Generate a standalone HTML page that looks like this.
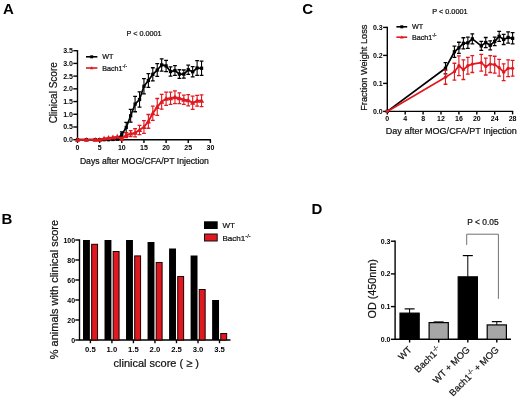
<!DOCTYPE html>
<html><head><meta charset="utf-8"><style>
html,body{margin:0;padding:0;background:#fff;}
svg{display:block;font-family:"Liberation Sans", sans-serif;will-change:transform;}
</style></head><body>
<svg width="520" height="403" viewBox="0 0 520 403">
<rect width="520" height="403" fill="#fff"/>
<text x="3.00" y="13.70" font-size="15" text-anchor="start" font-weight="bold" fill="#000" >A</text>
<text x="1.60" y="223.60" font-size="15" text-anchor="start" font-weight="bold" fill="#000" >B</text>
<text x="302.20" y="13.70" font-size="15" text-anchor="start" font-weight="bold" fill="#000" >C</text>
<text x="311.40" y="214.20" font-size="15" text-anchor="start" font-weight="bold" fill="#000" >D</text>
<line x1="77.50" y1="50.09" x2="77.50" y2="140.30" stroke="#000" stroke-width="1.4"/>
<line x1="73.30" y1="139.70" x2="77.50" y2="139.70" stroke="#000" stroke-width="1.4"/>
<text x="72.90" y="142.20" font-size="7" text-anchor="end" font-weight="bold" fill="#000" >0.0</text>
<line x1="73.30" y1="126.98" x2="77.50" y2="126.98" stroke="#000" stroke-width="1.4"/>
<text x="72.90" y="129.48" font-size="7" text-anchor="end" font-weight="bold" fill="#000" >0.5</text>
<line x1="73.30" y1="114.27" x2="77.50" y2="114.27" stroke="#000" stroke-width="1.4"/>
<text x="72.90" y="116.77" font-size="7" text-anchor="end" font-weight="bold" fill="#000" >1.0</text>
<line x1="73.30" y1="101.55" x2="77.50" y2="101.55" stroke="#000" stroke-width="1.4"/>
<text x="72.90" y="104.05" font-size="7" text-anchor="end" font-weight="bold" fill="#000" >1.5</text>
<line x1="73.30" y1="88.84" x2="77.50" y2="88.84" stroke="#000" stroke-width="1.4"/>
<text x="72.90" y="91.34" font-size="7" text-anchor="end" font-weight="bold" fill="#000" >2.0</text>
<line x1="73.30" y1="76.12" x2="77.50" y2="76.12" stroke="#000" stroke-width="1.4"/>
<text x="72.90" y="78.62" font-size="7" text-anchor="end" font-weight="bold" fill="#000" >2.5</text>
<line x1="73.30" y1="63.41" x2="77.50" y2="63.41" stroke="#000" stroke-width="1.4"/>
<text x="72.90" y="65.91" font-size="7" text-anchor="end" font-weight="bold" fill="#000" >3.0</text>
<line x1="73.30" y1="50.69" x2="77.50" y2="50.69" stroke="#000" stroke-width="1.4"/>
<text x="72.90" y="53.19" font-size="7" text-anchor="end" font-weight="bold" fill="#000" >3.5</text>
<line x1="77.50" y1="139.70" x2="211.00" y2="139.70" stroke="#000" stroke-width="1.4"/>
<line x1="77.50" y1="139.70" x2="77.50" y2="142.90" stroke="#000" stroke-width="1.4"/>
<text x="77.50" y="150.30" font-size="7" text-anchor="middle" font-weight="bold" fill="#000" >0</text>
<line x1="99.65" y1="139.70" x2="99.65" y2="142.90" stroke="#000" stroke-width="1.4"/>
<text x="99.65" y="150.30" font-size="7" text-anchor="middle" font-weight="bold" fill="#000" >5</text>
<line x1="121.80" y1="139.70" x2="121.80" y2="142.90" stroke="#000" stroke-width="1.4"/>
<text x="121.80" y="150.30" font-size="7" text-anchor="middle" font-weight="bold" fill="#000" >10</text>
<line x1="143.95" y1="139.70" x2="143.95" y2="142.90" stroke="#000" stroke-width="1.4"/>
<text x="143.95" y="150.30" font-size="7" text-anchor="middle" font-weight="bold" fill="#000" >15</text>
<line x1="166.10" y1="139.70" x2="166.10" y2="142.90" stroke="#000" stroke-width="1.4"/>
<text x="166.10" y="150.30" font-size="7" text-anchor="middle" font-weight="bold" fill="#000" >20</text>
<line x1="188.25" y1="139.70" x2="188.25" y2="142.90" stroke="#000" stroke-width="1.4"/>
<text x="188.25" y="150.30" font-size="7" text-anchor="middle" font-weight="bold" fill="#000" >25</text>
<line x1="210.40" y1="139.70" x2="210.40" y2="142.90" stroke="#000" stroke-width="1.4"/>
<text x="210.40" y="150.30" font-size="7" text-anchor="middle" font-weight="bold" fill="#000" >30</text>
<text x="79.90" y="164.20" font-size="8.62" text-anchor="start" font-weight="normal" fill="#111"  stroke="#111" stroke-width="0.22">Days after MOG/CFA/PT Injection</text>
<text transform="translate(56.5,92.8) rotate(-90)" font-size="10" text-anchor="middle" fill="#111" stroke="#111" stroke-width="0.22">Clinical Score</text>
<text x="144.00" y="35.90" font-size="7.25" text-anchor="middle" font-weight="normal" fill="#111"  stroke="#111" stroke-width="0.22">P &lt; 0.0001</text>
<line x1="86.00" y1="56.80" x2="97.40" y2="56.80" stroke="#000" stroke-width="1.6"/>
<rect x="90.2" y="55.3" width="3" height="3" fill="#000"/>
<text x="102.20" y="58.90" font-size="7.2" text-anchor="start" font-weight="normal" fill="#111"  stroke="#111" stroke-width="0.22">WT</text>
<line x1="86.00" y1="68.00" x2="97.40" y2="68.00" stroke="#e0181f" stroke-width="1.6"/>
<polygon points="91.7,66.2 93.5,69.3 89.9,69.3" fill="#e0181f"/>
<text x="102.20" y="70.70" font-size="7.2" text-anchor="start" font-weight="normal" fill="#111"  stroke="#111" stroke-width="0.22">Bach1<tspan font-size="4.6" dy="-2.6">-/-</tspan></text>
<path d="M121.80 131.82V136.90" stroke="#000" stroke-width="1.1" fill="none"/>
<path d="M119.90 131.82H123.70M119.90 136.90H123.70" stroke="#000" stroke-width="1.3" fill="none"/>
<path d="M126.23 122.41V132.58" stroke="#000" stroke-width="1.1" fill="none"/>
<path d="M124.33 122.41H128.13M124.33 132.58H128.13" stroke="#000" stroke-width="1.3" fill="none"/>
<path d="M130.66 109.44V122.15" stroke="#000" stroke-width="1.1" fill="none"/>
<path d="M128.76 109.44H132.56M128.76 122.15H132.56" stroke="#000" stroke-width="1.3" fill="none"/>
<path d="M135.09 96.47V111.73" stroke="#000" stroke-width="1.1" fill="none"/>
<path d="M133.19 96.47H136.99M133.19 111.73H136.99" stroke="#000" stroke-width="1.3" fill="none"/>
<path d="M139.52 91.89V107.15" stroke="#000" stroke-width="1.1" fill="none"/>
<path d="M137.62 91.89H141.42M137.62 107.15H141.42" stroke="#000" stroke-width="1.3" fill="none"/>
<path d="M143.95 78.67V93.93" stroke="#000" stroke-width="1.1" fill="none"/>
<path d="M142.05 78.67H145.85M142.05 93.93H145.85" stroke="#000" stroke-width="1.3" fill="none"/>
<path d="M148.38 73.58V87.31" stroke="#000" stroke-width="1.1" fill="none"/>
<path d="M146.48 73.58H150.28M146.48 87.31H150.28" stroke="#000" stroke-width="1.3" fill="none"/>
<path d="M152.81 67.73V80.96" stroke="#000" stroke-width="1.1" fill="none"/>
<path d="M150.91 67.73H154.71M150.91 80.96H154.71" stroke="#000" stroke-width="1.3" fill="none"/>
<path d="M157.24 63.66V76.38" stroke="#000" stroke-width="1.1" fill="none"/>
<path d="M155.34 63.66H159.14M155.34 76.38H159.14" stroke="#000" stroke-width="1.3" fill="none"/>
<path d="M161.67 58.83V71.04" stroke="#000" stroke-width="1.1" fill="none"/>
<path d="M159.77 58.83H163.57M159.77 71.04H163.57" stroke="#000" stroke-width="1.3" fill="none"/>
<path d="M166.10 60.36V71.55" stroke="#000" stroke-width="1.1" fill="none"/>
<path d="M164.20 60.36H168.00M164.20 71.55H168.00" stroke="#000" stroke-width="1.3" fill="none"/>
<path d="M170.53 66.97V76.12" stroke="#000" stroke-width="1.1" fill="none"/>
<path d="M168.63 66.97H172.43M168.63 76.12H172.43" stroke="#000" stroke-width="1.3" fill="none"/>
<path d="M174.96 65.70V75.36" stroke="#000" stroke-width="1.1" fill="none"/>
<path d="M173.06 65.70H176.86M173.06 75.36H176.86" stroke="#000" stroke-width="1.3" fill="none"/>
<path d="M179.39 69.77V78.41" stroke="#000" stroke-width="1.1" fill="none"/>
<path d="M177.49 69.77H181.29M177.49 78.41H181.29" stroke="#000" stroke-width="1.3" fill="none"/>
<path d="M183.82 70.02V78.16" stroke="#000" stroke-width="1.1" fill="none"/>
<path d="M181.92 70.02H185.72M181.92 78.16H185.72" stroke="#000" stroke-width="1.3" fill="none"/>
<path d="M188.25 65.19V74.34" stroke="#000" stroke-width="1.1" fill="none"/>
<path d="M186.35 65.19H190.15M186.35 74.34H190.15" stroke="#000" stroke-width="1.3" fill="none"/>
<path d="M192.68 66.72V76.89" stroke="#000" stroke-width="1.1" fill="none"/>
<path d="M190.78 66.72H194.58M190.78 76.89H194.58" stroke="#000" stroke-width="1.3" fill="none"/>
<path d="M197.11 60.61V75.36" stroke="#000" stroke-width="1.1" fill="none"/>
<path d="M195.21 60.61H199.01M195.21 75.36H199.01" stroke="#000" stroke-width="1.3" fill="none"/>
<path d="M201.54 61.12V75.36" stroke="#000" stroke-width="1.1" fill="none"/>
<path d="M199.64 61.12H203.44M199.64 75.36H203.44" stroke="#000" stroke-width="1.3" fill="none"/>
<polyline points="77.50,139.70 86.36,139.70 95.22,139.70 99.65,139.70 104.08,139.70 108.51,139.70 112.94,139.45 117.37,139.19 121.80,134.36 126.23,127.49 130.66,115.80 135.09,104.10 139.52,99.52 143.95,86.30 148.38,80.45 152.81,74.34 157.24,70.02 161.67,64.94 166.10,65.95 170.53,71.55 174.96,70.53 179.39,74.09 183.82,74.09 188.25,69.77 192.68,71.80 197.11,67.99 201.54,68.24" fill="none" stroke="#000" stroke-width="1.7" stroke-linejoin="round"/>
<rect x="75.85" y="138.05" width="3.3" height="3.3" fill="#000"/>
<rect x="84.71" y="138.05" width="3.3" height="3.3" fill="#000"/>
<rect x="93.57" y="138.05" width="3.3" height="3.3" fill="#000"/>
<rect x="98.00" y="138.05" width="3.3" height="3.3" fill="#000"/>
<rect x="102.43" y="138.05" width="3.3" height="3.3" fill="#000"/>
<rect x="106.86" y="138.05" width="3.3" height="3.3" fill="#000"/>
<rect x="111.29" y="137.80" width="3.3" height="3.3" fill="#000"/>
<rect x="115.72" y="137.54" width="3.3" height="3.3" fill="#000"/>
<rect x="120.15" y="132.71" width="3.3" height="3.3" fill="#000"/>
<rect x="124.58" y="125.84" width="3.3" height="3.3" fill="#000"/>
<rect x="129.01" y="114.15" width="3.3" height="3.3" fill="#000"/>
<rect x="133.44" y="102.45" width="3.3" height="3.3" fill="#000"/>
<rect x="137.87" y="97.87" width="3.3" height="3.3" fill="#000"/>
<rect x="142.30" y="84.65" width="3.3" height="3.3" fill="#000"/>
<rect x="146.73" y="78.80" width="3.3" height="3.3" fill="#000"/>
<rect x="151.16" y="72.69" width="3.3" height="3.3" fill="#000"/>
<rect x="155.59" y="68.37" width="3.3" height="3.3" fill="#000"/>
<rect x="160.02" y="63.29" width="3.3" height="3.3" fill="#000"/>
<rect x="164.45" y="64.30" width="3.3" height="3.3" fill="#000"/>
<rect x="168.88" y="69.90" width="3.3" height="3.3" fill="#000"/>
<rect x="173.31" y="68.88" width="3.3" height="3.3" fill="#000"/>
<rect x="177.74" y="72.44" width="3.3" height="3.3" fill="#000"/>
<rect x="182.17" y="72.44" width="3.3" height="3.3" fill="#000"/>
<rect x="186.60" y="68.12" width="3.3" height="3.3" fill="#000"/>
<rect x="191.03" y="70.15" width="3.3" height="3.3" fill="#000"/>
<rect x="195.46" y="66.34" width="3.3" height="3.3" fill="#000"/>
<rect x="199.89" y="66.59" width="3.3" height="3.3" fill="#000"/>
<path d="M126.23 132.58V137.67" stroke="#e0181f" stroke-width="1.1" fill="none"/>
<path d="M124.33 132.58H128.13M124.33 137.67H128.13" stroke="#e0181f" stroke-width="1.3" fill="none"/>
<path d="M130.66 130.55V136.65" stroke="#e0181f" stroke-width="1.1" fill="none"/>
<path d="M128.76 130.55H132.56M128.76 136.65H132.56" stroke="#e0181f" stroke-width="1.3" fill="none"/>
<path d="M135.09 128.77V136.90" stroke="#e0181f" stroke-width="1.1" fill="none"/>
<path d="M133.19 128.77H136.99M133.19 136.90H136.99" stroke="#e0181f" stroke-width="1.3" fill="none"/>
<path d="M139.52 125.46V134.61" stroke="#e0181f" stroke-width="1.1" fill="none"/>
<path d="M137.62 125.46H141.42M137.62 134.61H141.42" stroke="#e0181f" stroke-width="1.3" fill="none"/>
<path d="M143.95 120.63V133.34" stroke="#e0181f" stroke-width="1.1" fill="none"/>
<path d="M142.05 120.63H145.85M142.05 133.34H145.85" stroke="#e0181f" stroke-width="1.3" fill="none"/>
<path d="M148.38 114.52V128.26" stroke="#e0181f" stroke-width="1.1" fill="none"/>
<path d="M146.48 114.52H150.28M146.48 128.26H150.28" stroke="#e0181f" stroke-width="1.3" fill="none"/>
<path d="M152.81 106.13V120.37" stroke="#e0181f" stroke-width="1.1" fill="none"/>
<path d="M150.91 106.13H154.71M150.91 120.37H154.71" stroke="#e0181f" stroke-width="1.3" fill="none"/>
<path d="M157.24 98.50V115.29" stroke="#e0181f" stroke-width="1.1" fill="none"/>
<path d="M155.34 98.50H159.14M155.34 115.29H159.14" stroke="#e0181f" stroke-width="1.3" fill="none"/>
<path d="M161.67 94.43V109.18" stroke="#e0181f" stroke-width="1.1" fill="none"/>
<path d="M159.77 94.43H163.57M159.77 109.18H163.57" stroke="#e0181f" stroke-width="1.3" fill="none"/>
<path d="M166.10 92.15V105.37" stroke="#e0181f" stroke-width="1.1" fill="none"/>
<path d="M164.20 92.15H168.00M164.20 105.37H168.00" stroke="#e0181f" stroke-width="1.3" fill="none"/>
<path d="M170.53 92.15V104.35" stroke="#e0181f" stroke-width="1.1" fill="none"/>
<path d="M168.63 92.15H172.43M168.63 104.35H172.43" stroke="#e0181f" stroke-width="1.3" fill="none"/>
<path d="M174.96 90.87V103.59" stroke="#e0181f" stroke-width="1.1" fill="none"/>
<path d="M173.06 90.87H176.86M173.06 103.59H176.86" stroke="#e0181f" stroke-width="1.3" fill="none"/>
<path d="M179.39 92.91V103.59" stroke="#e0181f" stroke-width="1.1" fill="none"/>
<path d="M177.49 92.91H181.29M177.49 103.59H181.29" stroke="#e0181f" stroke-width="1.3" fill="none"/>
<path d="M183.82 95.20V104.35" stroke="#e0181f" stroke-width="1.1" fill="none"/>
<path d="M181.92 95.20H185.72M181.92 104.35H185.72" stroke="#e0181f" stroke-width="1.3" fill="none"/>
<path d="M188.25 94.69V105.88" stroke="#e0181f" stroke-width="1.1" fill="none"/>
<path d="M186.35 94.69H190.15M186.35 105.88H190.15" stroke="#e0181f" stroke-width="1.3" fill="none"/>
<path d="M192.68 96.21V109.44" stroke="#e0181f" stroke-width="1.1" fill="none"/>
<path d="M190.78 96.21H194.58M190.78 109.44H194.58" stroke="#e0181f" stroke-width="1.3" fill="none"/>
<path d="M197.11 95.45V106.13" stroke="#e0181f" stroke-width="1.1" fill="none"/>
<path d="M195.21 95.45H199.01M195.21 106.13H199.01" stroke="#e0181f" stroke-width="1.3" fill="none"/>
<path d="M201.54 94.94V106.64" stroke="#e0181f" stroke-width="1.1" fill="none"/>
<path d="M199.64 94.94H203.44M199.64 106.64H203.44" stroke="#e0181f" stroke-width="1.3" fill="none"/>
<polyline points="77.50,139.70 86.36,139.70 95.22,139.70 99.65,139.70 104.08,138.43 108.51,137.92 112.94,137.41 117.37,136.65 121.80,138.94 126.23,135.12 130.66,133.60 135.09,132.83 139.52,130.04 143.95,126.98 148.38,121.39 152.81,113.25 157.24,106.90 161.67,101.81 166.10,98.76 170.53,98.25 174.96,97.23 179.39,98.25 183.82,99.77 188.25,100.28 192.68,102.83 197.11,100.79 201.54,100.79" fill="none" stroke="#e0181f" stroke-width="1.9" stroke-linejoin="round"/>
<polygon points="77.50,136.90 80.10,141.70 74.90,141.70" fill="#e0181f"/>
<polygon points="86.36,136.90 88.96,141.70 83.76,141.70" fill="#e0181f"/>
<polygon points="95.22,136.90 97.82,141.70 92.62,141.70" fill="#e0181f"/>
<polygon points="99.65,136.90 102.25,141.70 97.05,141.70" fill="#e0181f"/>
<polygon points="104.08,135.63 106.68,140.43 101.48,140.43" fill="#e0181f"/>
<polygon points="108.51,135.12 111.11,139.92 105.91,139.92" fill="#e0181f"/>
<polygon points="112.94,134.61 115.54,139.41 110.34,139.41" fill="#e0181f"/>
<polygon points="117.37,133.85 119.97,138.65 114.77,138.65" fill="#e0181f"/>
<polygon points="121.80,136.14 124.40,140.94 119.20,140.94" fill="#e0181f"/>
<polygon points="126.23,132.32 128.83,137.12 123.63,137.12" fill="#e0181f"/>
<polygon points="130.66,130.80 133.26,135.60 128.06,135.60" fill="#e0181f"/>
<polygon points="135.09,130.03 137.69,134.83 132.49,134.83" fill="#e0181f"/>
<polygon points="139.52,127.24 142.12,132.04 136.92,132.04" fill="#e0181f"/>
<polygon points="143.95,124.18 146.55,128.98 141.35,128.98" fill="#e0181f"/>
<polygon points="148.38,118.59 150.98,123.39 145.78,123.39" fill="#e0181f"/>
<polygon points="152.81,110.45 155.41,115.25 150.21,115.25" fill="#e0181f"/>
<polygon points="157.24,104.10 159.84,108.90 154.64,108.90" fill="#e0181f"/>
<polygon points="161.67,99.01 164.27,103.81 159.07,103.81" fill="#e0181f"/>
<polygon points="166.10,95.96 168.70,100.76 163.50,100.76" fill="#e0181f"/>
<polygon points="170.53,95.45 173.13,100.25 167.93,100.25" fill="#e0181f"/>
<polygon points="174.96,94.43 177.56,99.23 172.36,99.23" fill="#e0181f"/>
<polygon points="179.39,95.45 181.99,100.25 176.79,100.25" fill="#e0181f"/>
<polygon points="183.82,96.97 186.42,101.77 181.22,101.77" fill="#e0181f"/>
<polygon points="188.25,97.48 190.85,102.28 185.65,102.28" fill="#e0181f"/>
<polygon points="192.68,100.03 195.28,104.83 190.08,104.83" fill="#e0181f"/>
<polygon points="197.11,97.99 199.71,102.79 194.51,102.79" fill="#e0181f"/>
<polygon points="201.54,97.99 204.14,102.79 198.94,102.79" fill="#e0181f"/>
<line x1="387.30" y1="26.80" x2="387.30" y2="112.00" stroke="#000" stroke-width="1.4"/>
<line x1="383.10" y1="111.40" x2="387.30" y2="111.40" stroke="#000" stroke-width="1.4"/>
<text x="382.70" y="113.90" font-size="7" text-anchor="end" font-weight="bold" fill="#000" >0.0</text>
<line x1="383.10" y1="83.40" x2="387.30" y2="83.40" stroke="#000" stroke-width="1.4"/>
<text x="382.70" y="85.90" font-size="7" text-anchor="end" font-weight="bold" fill="#000" >0.1</text>
<line x1="383.10" y1="55.40" x2="387.30" y2="55.40" stroke="#000" stroke-width="1.4"/>
<text x="382.70" y="57.90" font-size="7" text-anchor="end" font-weight="bold" fill="#000" >0.2</text>
<line x1="383.10" y1="27.40" x2="387.30" y2="27.40" stroke="#000" stroke-width="1.4"/>
<text x="382.70" y="29.90" font-size="7" text-anchor="end" font-weight="bold" fill="#000" >0.3</text>
<line x1="387.30" y1="111.40" x2="513.20" y2="111.40" stroke="#000" stroke-width="1.4"/>
<line x1="387.30" y1="111.40" x2="387.30" y2="114.40" stroke="#000" stroke-width="1.4"/>
<text x="387.30" y="120.80" font-size="7" text-anchor="middle" font-weight="bold" fill="#000" >0</text>
<line x1="405.20" y1="111.40" x2="405.20" y2="114.40" stroke="#000" stroke-width="1.4"/>
<text x="405.20" y="120.80" font-size="7" text-anchor="middle" font-weight="bold" fill="#000" >4</text>
<line x1="423.10" y1="111.40" x2="423.10" y2="114.40" stroke="#000" stroke-width="1.4"/>
<text x="423.10" y="120.80" font-size="7" text-anchor="middle" font-weight="bold" fill="#000" >8</text>
<line x1="441.00" y1="111.40" x2="441.00" y2="114.40" stroke="#000" stroke-width="1.4"/>
<text x="441.00" y="120.80" font-size="7" text-anchor="middle" font-weight="bold" fill="#000" >12</text>
<line x1="458.90" y1="111.40" x2="458.90" y2="114.40" stroke="#000" stroke-width="1.4"/>
<text x="458.90" y="120.80" font-size="7" text-anchor="middle" font-weight="bold" fill="#000" >16</text>
<line x1="476.80" y1="111.40" x2="476.80" y2="114.40" stroke="#000" stroke-width="1.4"/>
<text x="476.80" y="120.80" font-size="7" text-anchor="middle" font-weight="bold" fill="#000" >20</text>
<line x1="494.70" y1="111.40" x2="494.70" y2="114.40" stroke="#000" stroke-width="1.4"/>
<text x="494.70" y="120.80" font-size="7" text-anchor="middle" font-weight="bold" fill="#000" >24</text>
<line x1="512.60" y1="111.40" x2="512.60" y2="114.40" stroke="#000" stroke-width="1.4"/>
<text x="512.60" y="120.80" font-size="7" text-anchor="middle" font-weight="bold" fill="#000" >28</text>
<text x="385.80" y="134.30" font-size="9.05" text-anchor="start" font-weight="normal" fill="#111"  stroke="#111" stroke-width="0.22">Day after MOG/CFA/PT Injection</text>
<text transform="translate(366.9,67.7) rotate(-90)" font-size="9.2" text-anchor="middle" fill="#111" stroke="#111" stroke-width="0.22">Fraction Weight Loss</text>
<text x="449.90" y="13.70" font-size="7.3" text-anchor="middle" font-weight="normal" fill="#111"  stroke="#111" stroke-width="0.22">P &lt; 0.0001</text>
<line x1="396.40" y1="26.80" x2="407.20" y2="26.80" stroke="#000" stroke-width="1.6"/>
<rect x="400.3" y="25.3" width="3" height="3" fill="#000"/>
<text x="411.90" y="28.90" font-size="7.2" text-anchor="start" font-weight="normal" fill="#111"  stroke="#111" stroke-width="0.22">WT</text>
<line x1="396.40" y1="37.20" x2="407.20" y2="37.20" stroke="#e0181f" stroke-width="1.6"/>
<polygon points="401.8,35.4 403.6,38.5 400.0,38.5" fill="#e0181f"/>
<text x="411.90" y="39.90" font-size="7.2" text-anchor="start" font-weight="normal" fill="#111"  stroke="#111" stroke-width="0.22">Bach1<tspan font-size="4.6" dy="-2.6">-/-</tspan></text>
<path d="M445.48 62.68V73.88" stroke="#000" stroke-width="1.1" fill="none"/>
<path d="M443.58 62.68H447.38M443.58 73.88H447.38" stroke="#000" stroke-width="1.3" fill="none"/>
<path d="M454.43 46.16V57.36" stroke="#000" stroke-width="1.1" fill="none"/>
<path d="M452.53 46.16H456.32M452.53 57.36H456.32" stroke="#000" stroke-width="1.3" fill="none"/>
<path d="M458.90 42.24V53.44" stroke="#000" stroke-width="1.1" fill="none"/>
<path d="M457.00 42.24H460.80M457.00 53.44H460.80" stroke="#000" stroke-width="1.3" fill="none"/>
<path d="M463.38 37.76V48.96" stroke="#000" stroke-width="1.1" fill="none"/>
<path d="M461.48 37.76H465.27M461.48 48.96H465.27" stroke="#000" stroke-width="1.3" fill="none"/>
<path d="M467.85 37.20V48.40" stroke="#000" stroke-width="1.1" fill="none"/>
<path d="M465.95 37.20H469.75M465.95 48.40H469.75" stroke="#000" stroke-width="1.3" fill="none"/>
<path d="M472.32 33.84V43.92" stroke="#000" stroke-width="1.1" fill="none"/>
<path d="M470.43 33.84H474.22M470.43 43.92H474.22" stroke="#000" stroke-width="1.3" fill="none"/>
<path d="M481.27 41.40V50.36" stroke="#000" stroke-width="1.1" fill="none"/>
<path d="M479.38 41.40H483.17M479.38 50.36H483.17" stroke="#000" stroke-width="1.3" fill="none"/>
<path d="M485.75 37.48V47.56" stroke="#000" stroke-width="1.1" fill="none"/>
<path d="M483.85 37.48H487.65M483.85 47.56H487.65" stroke="#000" stroke-width="1.3" fill="none"/>
<path d="M490.23 40.84V49.80" stroke="#000" stroke-width="1.1" fill="none"/>
<path d="M488.33 40.84H492.12M488.33 49.80H492.12" stroke="#000" stroke-width="1.3" fill="none"/>
<path d="M494.70 37.20V45.60" stroke="#000" stroke-width="1.1" fill="none"/>
<path d="M492.80 37.20H496.60M492.80 45.60H496.60" stroke="#000" stroke-width="1.3" fill="none"/>
<path d="M499.18 31.32V41.40" stroke="#000" stroke-width="1.1" fill="none"/>
<path d="M497.28 31.32H501.07M497.28 41.40H501.07" stroke="#000" stroke-width="1.3" fill="none"/>
<path d="M503.65 34.40V44.48" stroke="#000" stroke-width="1.1" fill="none"/>
<path d="M501.75 34.40H505.55M501.75 44.48H505.55" stroke="#000" stroke-width="1.3" fill="none"/>
<path d="M508.12 31.88V43.08" stroke="#000" stroke-width="1.1" fill="none"/>
<path d="M506.23 31.88H510.02M506.23 43.08H510.02" stroke="#000" stroke-width="1.3" fill="none"/>
<path d="M512.60 32.72V43.92" stroke="#000" stroke-width="1.1" fill="none"/>
<path d="M510.70 32.72H514.50M510.70 43.92H514.50" stroke="#000" stroke-width="1.3" fill="none"/>
<polyline points="387.30,111.40 445.48,68.28 454.43,51.76 458.90,47.84 463.38,43.36 467.85,42.80 472.32,38.88 481.27,45.88 485.75,42.52 490.23,45.32 494.70,41.40 499.18,36.36 503.65,39.44 508.12,37.48 512.60,38.32" fill="none" stroke="#000" stroke-width="1.7" stroke-linejoin="round"/>
<rect x="385.65" y="109.75" width="3.3" height="3.3" fill="#000"/>
<rect x="443.83" y="66.63" width="3.3" height="3.3" fill="#000"/>
<rect x="452.78" y="50.11" width="3.3" height="3.3" fill="#000"/>
<rect x="457.25" y="46.19" width="3.3" height="3.3" fill="#000"/>
<rect x="461.73" y="41.71" width="3.3" height="3.3" fill="#000"/>
<rect x="466.20" y="41.15" width="3.3" height="3.3" fill="#000"/>
<rect x="470.68" y="37.23" width="3.3" height="3.3" fill="#000"/>
<rect x="479.62" y="44.23" width="3.3" height="3.3" fill="#000"/>
<rect x="484.10" y="40.87" width="3.3" height="3.3" fill="#000"/>
<rect x="488.58" y="43.67" width="3.3" height="3.3" fill="#000"/>
<rect x="493.05" y="39.75" width="3.3" height="3.3" fill="#000"/>
<rect x="497.53" y="34.71" width="3.3" height="3.3" fill="#000"/>
<rect x="502.00" y="37.79" width="3.3" height="3.3" fill="#000"/>
<rect x="506.48" y="35.83" width="3.3" height="3.3" fill="#000"/>
<rect x="510.95" y="36.67" width="3.3" height="3.3" fill="#000"/>
<path d="M445.48 70.24V84.24" stroke="#e0181f" stroke-width="1.1" fill="none"/>
<path d="M443.58 70.24H447.38M443.58 84.24H447.38" stroke="#e0181f" stroke-width="1.3" fill="none"/>
<path d="M454.43 63.24V80.04" stroke="#e0181f" stroke-width="1.1" fill="none"/>
<path d="M452.53 63.24H456.32M452.53 80.04H456.32" stroke="#e0181f" stroke-width="1.3" fill="none"/>
<path d="M458.90 55.96V75.56" stroke="#e0181f" stroke-width="1.1" fill="none"/>
<path d="M457.00 55.96H460.80M457.00 75.56H460.80" stroke="#e0181f" stroke-width="1.3" fill="none"/>
<path d="M463.38 59.88V79.48" stroke="#e0181f" stroke-width="1.1" fill="none"/>
<path d="M461.48 59.88H465.27M461.48 79.48H465.27" stroke="#e0181f" stroke-width="1.3" fill="none"/>
<path d="M467.85 57.36V74.16" stroke="#e0181f" stroke-width="1.1" fill="none"/>
<path d="M465.95 57.36H469.75M465.95 74.16H469.75" stroke="#e0181f" stroke-width="1.3" fill="none"/>
<path d="M472.32 55.68V72.48" stroke="#e0181f" stroke-width="1.1" fill="none"/>
<path d="M470.43 55.68H474.22M470.43 72.48H474.22" stroke="#e0181f" stroke-width="1.3" fill="none"/>
<path d="M481.27 54.28V71.08" stroke="#e0181f" stroke-width="1.1" fill="none"/>
<path d="M479.38 54.28H483.17M479.38 71.08H483.17" stroke="#e0181f" stroke-width="1.3" fill="none"/>
<path d="M485.75 58.20V75.00" stroke="#e0181f" stroke-width="1.1" fill="none"/>
<path d="M483.85 58.20H487.65M483.85 75.00H487.65" stroke="#e0181f" stroke-width="1.3" fill="none"/>
<path d="M490.23 55.68V72.48" stroke="#e0181f" stroke-width="1.1" fill="none"/>
<path d="M488.33 55.68H492.12M488.33 72.48H492.12" stroke="#e0181f" stroke-width="1.3" fill="none"/>
<path d="M494.70 56.24V73.04" stroke="#e0181f" stroke-width="1.1" fill="none"/>
<path d="M492.80 56.24H496.60M492.80 73.04H496.60" stroke="#e0181f" stroke-width="1.3" fill="none"/>
<path d="M499.18 59.32V76.12" stroke="#e0181f" stroke-width="1.1" fill="none"/>
<path d="M497.28 59.32H501.07M497.28 76.12H501.07" stroke="#e0181f" stroke-width="1.3" fill="none"/>
<path d="M503.65 63.80V80.60" stroke="#e0181f" stroke-width="1.1" fill="none"/>
<path d="M501.75 63.80H505.55M501.75 80.60H505.55" stroke="#e0181f" stroke-width="1.3" fill="none"/>
<path d="M508.12 59.88V76.68" stroke="#e0181f" stroke-width="1.1" fill="none"/>
<path d="M506.23 59.88H510.02M506.23 76.68H510.02" stroke="#e0181f" stroke-width="1.3" fill="none"/>
<path d="M512.60 60.44V76.12" stroke="#e0181f" stroke-width="1.1" fill="none"/>
<path d="M510.70 60.44H514.50M510.70 76.12H514.50" stroke="#e0181f" stroke-width="1.3" fill="none"/>
<polyline points="387.30,111.40 445.48,77.24 454.43,71.64 458.90,65.76 463.38,69.68 467.85,65.76 472.32,64.08 481.27,62.68 485.75,66.60 490.23,64.08 494.70,64.64 499.18,67.72 503.65,72.20 508.12,68.28 512.60,68.28" fill="none" stroke="#e0181f" stroke-width="1.7" stroke-linejoin="round"/>
<circle cx="387.30" cy="111.40" r="1.65" fill="#e0181f"/>
<circle cx="445.48" cy="77.24" r="1.65" fill="#e0181f"/>
<circle cx="454.43" cy="71.64" r="1.65" fill="#e0181f"/>
<circle cx="458.90" cy="65.76" r="1.65" fill="#e0181f"/>
<circle cx="463.38" cy="69.68" r="1.65" fill="#e0181f"/>
<circle cx="467.85" cy="65.76" r="1.65" fill="#e0181f"/>
<circle cx="472.32" cy="64.08" r="1.65" fill="#e0181f"/>
<circle cx="481.27" cy="62.68" r="1.65" fill="#e0181f"/>
<circle cx="485.75" cy="66.60" r="1.65" fill="#e0181f"/>
<circle cx="490.23" cy="64.08" r="1.65" fill="#e0181f"/>
<circle cx="494.70" cy="64.64" r="1.65" fill="#e0181f"/>
<circle cx="499.18" cy="67.72" r="1.65" fill="#e0181f"/>
<circle cx="503.65" cy="72.20" r="1.65" fill="#e0181f"/>
<circle cx="508.12" cy="68.28" r="1.65" fill="#e0181f"/>
<circle cx="512.60" cy="68.28" r="1.65" fill="#e0181f"/>
<line x1="79.50" y1="239.40" x2="79.50" y2="340.60" stroke="#000" stroke-width="1.4"/>
<line x1="75.30" y1="340.00" x2="79.50" y2="340.00" stroke="#000" stroke-width="1.4"/>
<text x="75.10" y="342.50" font-size="7" text-anchor="end" font-weight="bold" fill="#000" >0</text>
<line x1="75.30" y1="320.00" x2="79.50" y2="320.00" stroke="#000" stroke-width="1.4"/>
<text x="75.10" y="322.50" font-size="7" text-anchor="end" font-weight="bold" fill="#000" >20</text>
<line x1="75.30" y1="300.00" x2="79.50" y2="300.00" stroke="#000" stroke-width="1.4"/>
<text x="75.10" y="302.50" font-size="7" text-anchor="end" font-weight="bold" fill="#000" >40</text>
<line x1="75.30" y1="280.00" x2="79.50" y2="280.00" stroke="#000" stroke-width="1.4"/>
<text x="75.10" y="282.50" font-size="7" text-anchor="end" font-weight="bold" fill="#000" >60</text>
<line x1="75.30" y1="260.00" x2="79.50" y2="260.00" stroke="#000" stroke-width="1.4"/>
<text x="75.10" y="262.50" font-size="7" text-anchor="end" font-weight="bold" fill="#000" >80</text>
<line x1="75.30" y1="240.00" x2="79.50" y2="240.00" stroke="#000" stroke-width="1.4"/>
<text x="75.10" y="242.50" font-size="7" text-anchor="end" font-weight="bold" fill="#000" >100</text>
<line x1="79.50" y1="340.00" x2="230.50" y2="340.00" stroke="#000" stroke-width="1.4"/>
<rect x="83.00" y="240.00" width="6.9" height="100.00" fill="#000"/>
<rect x="91.65" y="244.30" width="5.9" height="95.70" fill="#e0181f" stroke="#1a0000" stroke-width="1"/>
<line x1="90.40" y1="340.00" x2="90.40" y2="343.20" stroke="#000" stroke-width="1.4"/>
<text x="90.40" y="351.60" font-size="7.7" text-anchor="middle" font-weight="bold" fill="#000" >0.5</text>
<rect x="104.52" y="240.00" width="6.9" height="100.00" fill="#000"/>
<rect x="113.17" y="251.50" width="5.9" height="88.50" fill="#e0181f" stroke="#1a0000" stroke-width="1"/>
<line x1="111.92" y1="340.00" x2="111.92" y2="343.20" stroke="#000" stroke-width="1.4"/>
<text x="111.92" y="351.60" font-size="7.7" text-anchor="middle" font-weight="bold" fill="#000" >1.0</text>
<rect x="126.04" y="240.00" width="6.9" height="100.00" fill="#000"/>
<rect x="134.69" y="255.90" width="5.9" height="84.10" fill="#e0181f" stroke="#1a0000" stroke-width="1"/>
<line x1="133.44" y1="340.00" x2="133.44" y2="343.20" stroke="#000" stroke-width="1.4"/>
<text x="133.44" y="351.60" font-size="7.7" text-anchor="middle" font-weight="bold" fill="#000" >1.5</text>
<rect x="147.56" y="242.00" width="6.9" height="98.00" fill="#000"/>
<rect x="156.21" y="262.50" width="5.9" height="77.50" fill="#e0181f" stroke="#1a0000" stroke-width="1"/>
<line x1="154.96" y1="340.00" x2="154.96" y2="343.20" stroke="#000" stroke-width="1.4"/>
<text x="154.96" y="351.60" font-size="7.7" text-anchor="middle" font-weight="bold" fill="#000" >2.0</text>
<rect x="169.08" y="248.50" width="6.9" height="91.50" fill="#000"/>
<rect x="177.73" y="276.50" width="5.9" height="63.50" fill="#e0181f" stroke="#1a0000" stroke-width="1"/>
<line x1="176.48" y1="340.00" x2="176.48" y2="343.20" stroke="#000" stroke-width="1.4"/>
<text x="176.48" y="351.60" font-size="7.7" text-anchor="middle" font-weight="bold" fill="#000" >2.5</text>
<rect x="190.60" y="255.50" width="6.9" height="84.50" fill="#000"/>
<rect x="199.25" y="289.50" width="5.9" height="50.50" fill="#e0181f" stroke="#1a0000" stroke-width="1"/>
<line x1="198.00" y1="340.00" x2="198.00" y2="343.20" stroke="#000" stroke-width="1.4"/>
<text x="198.00" y="351.60" font-size="7.7" text-anchor="middle" font-weight="bold" fill="#000" >3.0</text>
<rect x="212.12" y="300.00" width="6.9" height="40.00" fill="#000"/>
<rect x="220.77" y="333.50" width="5.9" height="6.50" fill="#e0181f" stroke="#1a0000" stroke-width="1"/>
<line x1="219.52" y1="340.00" x2="219.52" y2="343.20" stroke="#000" stroke-width="1.4"/>
<text x="219.52" y="351.60" font-size="7.7" text-anchor="middle" font-weight="bold" fill="#000" >3.5</text>
<text transform="translate(58.0,289.6) rotate(-90)" font-size="11" text-anchor="middle" fill="#111" stroke="#111" stroke-width="0.22">% animals with clinical score</text>
<text x="113.50" y="366.90" font-size="11" text-anchor="start" font-weight="normal" fill="#111"  stroke="#111" stroke-width="0.22">clinical score ( &#8805; )</text>
<rect x="204" y="221.3" width="13.7" height="7.7" fill="#000"/>
<rect x="204.5" y="234" width="12.7" height="7" fill="#e0181f" stroke="#111" stroke-width="1"/>
<text x="222.40" y="227.90" font-size="8.0" text-anchor="start" font-weight="normal" fill="#111"  stroke="#111" stroke-width="0.22">WT</text>
<text x="222.40" y="240.80" font-size="8.1" text-anchor="start" font-weight="normal" fill="#111"  stroke="#111" stroke-width="0.22">Bach1<tspan font-size="5.6" dy="-3.1">-/-</tspan></text>
<line x1="395.10" y1="240.60" x2="395.10" y2="339.90" stroke="#000" stroke-width="1.4"/>
<line x1="390.90" y1="339.30" x2="395.10" y2="339.30" stroke="#000" stroke-width="1.4"/>
<text x="390.50" y="341.80" font-size="7" text-anchor="end" font-weight="bold" fill="#000" >0.0</text>
<line x1="390.90" y1="306.60" x2="395.10" y2="306.60" stroke="#000" stroke-width="1.4"/>
<text x="390.50" y="309.10" font-size="7" text-anchor="end" font-weight="bold" fill="#000" >0.1</text>
<line x1="390.90" y1="273.90" x2="395.10" y2="273.90" stroke="#000" stroke-width="1.4"/>
<text x="390.50" y="276.40" font-size="7" text-anchor="end" font-weight="bold" fill="#000" >0.2</text>
<line x1="390.90" y1="241.20" x2="395.10" y2="241.20" stroke="#000" stroke-width="1.4"/>
<text x="390.50" y="243.70" font-size="7" text-anchor="end" font-weight="bold" fill="#000" >0.3</text>
<line x1="395.10" y1="339.30" x2="511.00" y2="339.30" stroke="#000" stroke-width="1.4"/>
<line x1="409.60" y1="308.89" x2="409.60" y2="313.14" stroke="#000" stroke-width="1.0"/>
<line x1="404.60" y1="308.89" x2="414.60" y2="308.89" stroke="#000" stroke-width="1.2"/>
<rect x="400.00" y="313.14" width="19.2" height="26.16" fill="#000" stroke="#000" stroke-width="1.2"/>
<line x1="409.60" y1="339.30" x2="409.60" y2="342.50" stroke="#000" stroke-width="1.4"/>
<line x1="438.70" y1="321.97" x2="438.70" y2="322.62" stroke="#000" stroke-width="1.0"/>
<line x1="433.70" y1="321.97" x2="443.70" y2="321.97" stroke="#000" stroke-width="1.2"/>
<rect x="429.10" y="322.62" width="19.2" height="16.68" fill="#a6a6a6" stroke="#000" stroke-width="1.2"/>
<line x1="438.70" y1="339.30" x2="438.70" y2="342.50" stroke="#000" stroke-width="1.4"/>
<line x1="467.80" y1="255.59" x2="467.80" y2="276.84" stroke="#000" stroke-width="1.0"/>
<line x1="462.80" y1="255.59" x2="472.80" y2="255.59" stroke="#000" stroke-width="1.2"/>
<rect x="458.20" y="276.84" width="19.2" height="62.46" fill="#000" stroke="#000" stroke-width="1.2"/>
<line x1="467.80" y1="339.30" x2="467.80" y2="342.50" stroke="#000" stroke-width="1.4"/>
<line x1="496.80" y1="321.64" x2="496.80" y2="324.91" stroke="#000" stroke-width="1.0"/>
<line x1="491.80" y1="321.64" x2="501.80" y2="321.64" stroke="#000" stroke-width="1.2"/>
<rect x="487.20" y="324.91" width="19.2" height="14.39" fill="#a6a6a6" stroke="#000" stroke-width="1.2"/>
<line x1="496.80" y1="339.30" x2="496.80" y2="342.50" stroke="#000" stroke-width="1.4"/>
<text transform="translate(376.3,288.8) rotate(-90)" font-size="10.8" text-anchor="middle" fill="#111" stroke="#111" stroke-width="0.22">OD (450nm)</text>
<path d="M466.7 244.9V234.2H498.4V298.8" stroke="#707070" stroke-width="1.0" fill="none"/>
<text x="483.00" y="224.70" font-size="8.4" text-anchor="middle" font-weight="normal" fill="#111"  stroke="#111" stroke-width="0.22">P &lt; 0.05</text>
<text transform="translate(412.20,350.30) rotate(-45)" font-size="9.4" text-anchor="end" fill="#111" stroke="#111" stroke-width="0.2">WT</text>
<text transform="translate(441.30,350.30) rotate(-45)" font-size="9.4" text-anchor="end" fill="#111" stroke="#111" stroke-width="0.2">Bach1<tspan font-size="6.2" dy="-3.4">-/-</tspan></text>
<text transform="translate(470.40,350.30) rotate(-45)" font-size="9.4" text-anchor="end" fill="#111" stroke="#111" stroke-width="0.2">WT + MOG</text>
<text transform="translate(499.40,350.30) rotate(-45)" font-size="9.4" text-anchor="end" fill="#111" stroke="#111" stroke-width="0.2">Bach1<tspan font-size="6.2" dy="-3.4">-/-</tspan><tspan dy="3.4"> + MOG</tspan></text>
</svg>
</body></html>
